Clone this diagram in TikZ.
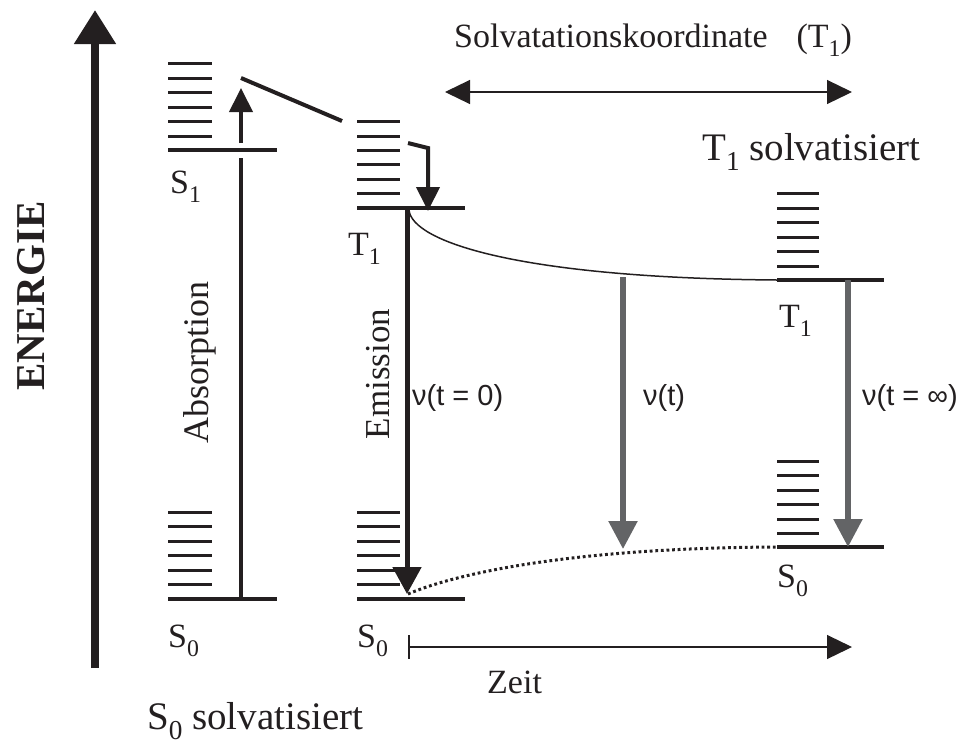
\documentclass[tikz,border=0pt]{standalone}
\usepackage{fontspec}
\setmainfont{Liberation Serif}
\newfontfamily\sansf{Liberation Sans}
\usetikzlibrary{arrows.meta}
\definecolor{ink}{HTML}{231F20}
\definecolor{grayarrow}{HTML}{636466}
\newcommand\lsub[1]{\raisebox{-0.27em}{\scalebox{0.7}{#1}}}
\newcommand\fs[1]{\fontsize{#1}{#1}\selectfont}
\begin{document}
\begin{tikzpicture}[x=1pt,y=-1pt,
  lvl/.style={line width=4pt, draw=ink},
  vib/.style={line width=3pt, draw=ink},
  lbl/.style={inner sep=0pt, anchor=base west, text=ink, font=\fs{34}},
  bigl/.style={inner sep=0pt, anchor=base west, text=ink, font=\fs{39}},
  nul/.style={inner sep=0pt, anchor=base west, text=ink, font=\sansf\fs{29}},
  blackarrow/.style={draw=ink, line width=4pt, -{Triangle[width=23pt,length=24pt]}},
  grayarr/.style={draw=grayarrow, line width=5.5pt, -{Triangle[width=28pt,length=28pt]}},
  thinarrow/.style={draw=ink, line width=1.2pt}
]
\useasboundingbox (0,0) rectangle (977,745);

% ---------- energy axis ----------
\coordinate (eb) at (95,668);
\coordinate (et) at (95,10);
\draw[draw=ink, line width=8pt, -{Triangle[width=40pt,length=34pt]}] (eb) -- (et);
\node[inner sep=0pt, rotate=90, text=ink, font=\bfseries\fs{41}] (energie) at (31,296) {ENERGIE};

% ---------- levels ----------
\coordinate (s1a) at (168,150); \coordinate (s1b) at (277,150);
\coordinate (s0la) at (168,599); \coordinate (s0lb) at (277,599);
\coordinate (t1ma) at (357,208); \coordinate (t1mb) at (465,208);
\coordinate (s0ma) at (357,599); \coordinate (s0mb) at (465,599);
\coordinate (t1ra) at (777,280); \coordinate (t1rb) at (884,280);
\coordinate (s0ra) at (777,547); \coordinate (s0rb) at (884,547);
\draw[lvl] (s1a) -- (s1b);
\draw[lvl] (s0la) -- (s0lb);
\draw[lvl] (t1ma) -- (t1mb);
\draw[lvl] (s0ma) -- (s0mb);
\draw[lvl] (t1ra) -- (t1rb);
\draw[lvl] (s0ra) -- (s0rb);

% vibrational sublevels
\foreach \y in {63,78,92,107,121,136} \draw[vib] (168,\y) -- (212,\y);
\foreach \y in {512,526,541,555,570,584} \draw[vib] (168,\y) -- (212,\y);
\foreach \y in {121,136,150,164,179,193} \draw[vib] (357,\y) -- (400,\y);
\foreach \y in {512,526,541,555,570,584} \draw[vib] (357,\y) -- (400,\y);
\foreach \y in {193,208,222,237,251,266} \draw[vib] (777,\y) -- (819,\y);
\foreach \y in {461,475,490,504,519,533} \draw[vib] (777,\y) -- (819,\y);

% ---------- absorption ----------
\coordinate (ab0) at (241,599);
\coordinate (ab1) at (241,158);
\coordinate (ab2) at (241,143);
\coordinate (ab3) at (241,88);
\draw[draw=ink, line width=4pt] (ab0) -- (ab1);
\draw[blackarrow] (ab2) -- (ab3);
\node[inner sep=0pt, rotate=90, text=ink, font=\fs{36}] (absorption) at (200,362) {Absorption};

% intersystem crossing line
\coordinate (isc0) at (241,78);
\coordinate (isc1) at (342,121);
\draw[draw=ink, line width=4pt] (isc0) -- (isc1);

% relaxation bent arrow
\coordinate (rl0) at (408,143);
\coordinate (rl1) at (428,148);
\coordinate (rl2) at (428,211);
\draw[blackarrow, line join=miter] (rl0) -- (rl1) -- (rl2);

% ---------- emission ----------
\coordinate (em0) at (407,208);
\coordinate (em1) at (407,594);
\draw[draw=ink, line width=5pt, -{Triangle[width=28pt,length=27pt]}] (em0) -- (em1);
\node[inner sep=0pt, rotate=90, text=ink, font=\fs{35}] (emission) at (378,374) {Emission};

% ---------- solvation curves ----------
\draw[draw=ink, line width=1.5pt] (409,210) .. controls (412,242) and (520,278) .. (t1ra);
\draw[draw=ink, line width=3pt, dash pattern=on 2.8pt off 2.8pt] (408,594) .. controls (450,576) and (560,548) .. (s0ra);

% ---------- gray arrows ----------
\coordinate (nt0) at (623,277);
\coordinate (nt1) at (623,549);
\coordinate (ni0) at (848,280);
\coordinate (ni1) at (848,547);
\draw[grayarr] (nt0) -- (nt1);
\draw[grayarr] (ni0) -- (ni1);

% ---------- nu labels ----------
\node[nul] (nu0) at (412,405) {ν(t = 0)};
\node[nul] (nut) at (643,405) {ν(t)};
\node[nul] (nuinf) at (862,405) {ν(t = ∞)};

% ---------- level labels ----------
\node[lbl] (ls1) at (170,193) {S\lsub{1}};
\node[lbl] (ls0l) at (168,647) {S\lsub{0}};
\node[lbl] (lt1m) at (348,255) {T\lsub{1}};
\node[lbl] (ls0m) at (357,647) {S\lsub{0}};
\node[lbl] (lt1r) at (779,327) {T\lsub{1}};
\node[lbl] (ls0r) at (777,587) {S\lsub{0}};

% ---------- solvation coordinate ----------
\node[lbl] (solv) at (454,47) {Solvatationskoordinate\hspace{0.6em} (T\lsub{1})};
\coordinate (sc0) at (445,92);
\coordinate (sc1) at (852,92);
\draw[thinarrow, {Triangle[width=24pt,length=25pt]}-{Triangle[width=24pt,length=25pt]}] (sc0) -- (sc1);

\node[bigl] (t1solv) at (702,160) {T\lsub{1} solvatisiert};
\node[bigl] (s0solv) at (147,729) {S\lsub{0} solvatisiert};

% ---------- time axis ----------
\coordinate (ta0) at (409,647);
\coordinate (ta1) at (852,647);
\coordinate (tk0) at (409,635);
\coordinate (tk1) at (409,659);
\draw[thinarrow, -{Triangle[width=24pt,length=25pt]}] (ta0) -- (ta1);
\draw[thinarrow] (tk0) -- (tk1);
\node[lbl] (zeit) at (487,693) {Zeit};
\end{tikzpicture}
\end{document}
